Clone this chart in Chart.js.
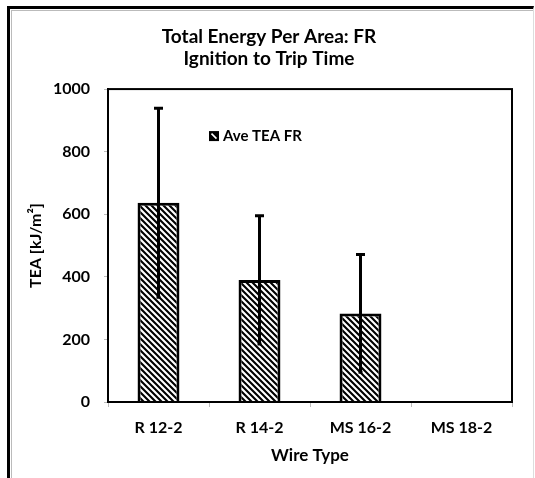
<!DOCTYPE html>
<html>
<head>
<meta charset="utf-8">
<script src="https://cdn.jsdelivr.net/npm/chart.js@4.4.1/dist/chart.umd.min.js"></script>
<style>
  html,body{margin:0;padding:0;background:#fff;}
  #wrap{position:relative;width:535px;height:478px;overflow:hidden;}
  #frame{position:absolute;left:7px;top:6px;width:523px;height:480px;
    border-top:3px solid #000;border-left:3px solid #000;border-right:1px solid #ddd;pointer-events:none;}
  #frame2{position:absolute;left:1px;top:1px;right:0;bottom:0;border-top:1px solid #bbb;border-left:1px solid #bbb;}
  canvas{position:absolute;left:0;top:0;}
</style>
</head>
<body>
<div id="wrap">
  <canvas id="c" width="535" height="478"></canvas>
  <div id="frame"><div id="frame2"></div></div>
</div>
<script>
// ---- Data ----
const categories = ['R 12-2', 'R 14-2', 'MS 16-2', 'MS 18-2'];
const aveTEA = [637, 390, 283, null];
const errTEA = [302, 205, 188, null];
const yTicks = [0, 200, 400, 600, 800, 1000];
const seriesLabel = 'Ave TEA FR';
const titleLines = ['Total Energy Per Area: FR', 'Ignition to Trip Time'];

const FONT = 'Lato, "Open Sans", "DejaVu Sans", sans-serif';

// diagonal hatch like the excel pattern fill
function makeHatch(){
  const t = document.createElement('canvas');
  t.width = 6; t.height = 6;
  const g = t.getContext('2d');
  g.fillStyle = '#fff'; g.fillRect(0,0,6,6);
  g.strokeStyle = '#000'; g.lineWidth = 2.1;
  g.beginPath();
  g.moveTo(-1,-1); g.lineTo(7,7);
  g.moveTo(-1,5); g.lineTo(1,7);
  g.moveTo(5,-1); g.lineTo(7,1);
  g.stroke();
  return document.getElementById('c').getContext('2d').createPattern(t,'repeat');
}
const hatch = makeHatch();

// ---- plugins ----
const boxBorder = {
  id:'boxBorder',
  afterDraw(chart){
    const {ctx, chartArea:a} = chart;
    ctx.save();
    ctx.strokeStyle = '#000'; ctx.lineWidth = 2;
    ctx.strokeRect(a.left, a.top, a.right-a.left, a.bottom-a.top);
    ctx.restore();
  }
};

const errorBars = {
  id:'errorBars',
  afterDatasetsDraw(chart){
    const {ctx} = chart, y = chart.scales.y;
    const meta = chart.getDatasetMeta(0);
    ctx.save();
    ctx.strokeStyle = '#000'; ctx.lineWidth = 3;
    aveTEA.forEach((v,i)=>{
      if(v==null || errTEA[i]==null) return;
      const x = meta.data[i].x;
      const yt = y.getPixelForValue(v+errTEA[i]);
      const yb = y.getPixelForValue(v-errTEA[i]);
      ctx.beginPath();
      ctx.moveTo(x,yt); ctx.lineTo(x,yb);
      ctx.moveTo(x-4.5,yt); ctx.lineTo(x+4.5,yt);
      ctx.moveTo(x-2,yb); ctx.lineTo(x+2,yb);
      ctx.stroke();
    });
    ctx.restore();
  }
};

const innerLegend = {
  id:'innerLegend',
  afterDraw(chart){
    const {ctx, chartArea:a} = chart;
    const bx = a.left + 101, by = a.top + 42;
    ctx.save();
    ctx.fillStyle = '#000';
    ctx.fillRect(bx, by, 10, 10);
    ctx.strokeStyle = '#fff'; ctx.lineWidth = 1.6;
    ctx.beginPath(); ctx.moveTo(bx+2.5,by+2.5); ctx.lineTo(bx+7.5,by+7.5); ctx.stroke();
    ctx.fillStyle = '#000';
    ctx.font = 'bold 15px ' + FONT;
    ctx.textBaseline = 'middle';
    ctx.fillText(chart.data.datasets[0].label, bx+14, by+5.5);
    ctx.restore();
  }
};

// ---- Chart ----
new Chart(document.getElementById('c'), {
  type:'bar',
  data:{
    labels: categories,
    datasets:[{
      label: seriesLabel,
      data: aveTEA,
      backgroundColor: hatch,
      borderColor:'#000',
      borderWidth: 3,
      barPercentage: 0.415,
      categoryPercentage: 1
    }]
  },
  options:{
    responsive:false,
    animation:false,
    layout:{ padding:{ left:26, right:23, top:0, bottom:12 } },
    plugins:{
      legend:{ display:false },
      tooltip:{ enabled:false },
      title:{
        display:true,
        text: titleLines,
        color:'#000',
        font:{ family:FONT, size:19, weight:'bold', lineHeight:1.16 },
        padding:{ top:26, bottom:19 }
      }
    },
    scales:{
      x:{
        offset:true,
        grid:{ display:true, drawOnChartArea:false, drawTicks:true, tickLength:5, color:'#bbb', offset:true },
        border:{ display:true, color:'#000', width:2 },
        ticks:{ color:'#000', padding:11, font:{ family:FONT, size:16, weight:'bold' } },
        title:{ display:true, text:'Wire Type', color:'#000', padding:0,
          font:{ family:FONT, size:17, weight:'bold', lineHeight:1.2 } },
        afterFit(s){ s.height = 64; }
      },
      y:{
        min:0, max:1000,
        afterBuildTicks(s){ s.ticks = yTicks.map(v=>({value:v})); },
        grid:{ display:true, drawOnChartArea:false, drawTicks:true, tickLength:4, color:'#bbb' },
        border:{ display:true, color:'#000', width:2 },
        ticks:{ color:'#000', padding:14, callback:v=>String(v), font:{ family:FONT, size:16, weight:'bold' } },
        title:{ display:true, text:'TEA [kJ/m²]', color:'#000', padding:0,
          font:{ family:FONT, size:16, weight:'bold', lineHeight:1.2 } },
        afterFit(s){ s.width = 82; }
      }
    }
  },
  plugins:[boxBorder, errorBars, innerLegend]
});
</script>
</body>
</html>
